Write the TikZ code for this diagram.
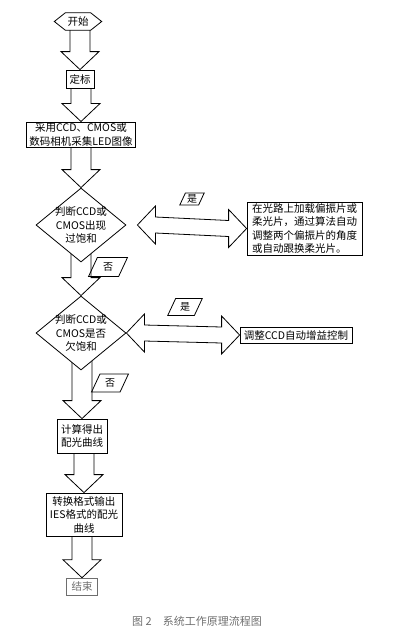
\documentclass[tikz,border=0pt]{standalone}
\usepackage{fontspec}
\setmainfont{Noto Sans CJK SC}
\usetikzlibrary{positioning,shapes.geometric,calc,backgrounds}
\definecolor{FlowGray}{HTML}{6E6E6E}

% block arrows between nodes
\newcommand\varrow[2]{%
  \draw[barrow] ($(#2 |- #1)+(-10pt,0)$) -- ($(#2)+(-10pt,18pt)$) -- ($(#2)+(-19pt,18pt)$)
    -- (#2) -- ($(#2)+(19pt,18pt)$) -- ($(#2)+(10pt,18pt)$) -- ($(#2 |- #1)+(10pt,0)$);}
\newcommand\harrow[2]{%
  \draw[barrow] (#1) -- ++(18pt,19pt) -- ++(0,-11pt) -- ($(#2)+(-18pt,8pt)$) -- ++(0,11pt)
    -- (#2) -- ++(-18pt,-19pt) -- ++(0,11pt) -- ($(#1)+(18pt,-8pt)$) -- ++(0,-11pt) -- cycle;}

\begin{document}
\begin{tikzpicture}[x=1pt,y=-1pt,font=\fontsize{10.5pt}{13.5pt}\selectfont,
    box/.style={draw, fill=white, line width=0.8pt, inner sep=1pt, align=center},
    decision/.style={diamond, draw, fill=white, line width=0.8pt, aspect=1.2, inner sep=-8pt,
      minimum width=90pt, minimum height=74pt, align=center},
    tag/.style={trapezium, trapezium left angle=65, trapezium right angle=115, draw,
      line width=0.8pt, inner sep=1.5pt, font=\fontsize{10pt}{12pt}\selectfont},
    barrow/.style={draw, fill=white, line width=0.8pt, line join=miter}]
  \useasboundingbox (0,0) rectangle (411,638);

  \node[minimum width=47pt, minimum height=17pt, inner sep=0pt] (start) at (78,21.5) {开始};
  \draw[line width=0.8pt] (start.west) -- ($(start.north west)+(11pt,0)$) -- ($(start.north east)+(-11pt,0)$)
    -- (start.east) -- ($(start.south east)+(-11pt,0)$) -- ($(start.south west)+(11pt,0)$) -- cycle;
  \node[box, minimum width=28pt, minimum height=18pt] (dingbiao) at (80,79) {定标};
  \node[box, minimum width=109pt, minimum height=25pt] (caiyong) at (81,134.5) {采用CCD、CMOS或\\数码相机采集LED图像};
  \node[decision] (dec1) at (81,225) {判断CCD或\\CMOS出现\\过饱和};
  \node[decision] (dec2) at (81,333) {判断CCD或\\CMOS是否\\欠饱和};
  \node[box, minimum width=50pt, minimum height=34pt] (jisuan) at (82,436) {计算得出\\配光曲线};
  \node[box, minimum width=76pt, minimum height=43pt] (zhuanhuan) at (84,514.5) {转换格式输出\\IES格式的配光\\曲线};
  \node[box, draw=FlowGray, text=FlowGray, line width=0.5pt, minimum width=31pt, minimum height=17pt] (jieshu) at (82,586.5) {结束};

  \node[box, align=left, inner xsep=3pt, minimum width=115pt, minimum height=53pt] (polar) at (304.5,228.5)
    {在光路上加载偏振片或\\柔光片，通过算法自动\\调整两个偏振片的角度\\或自动跟换柔光片。};
  \node[box, inner xsep=2pt, minimum width=112pt, minimum height=16pt] (gain) at (296,335) {调整CCD自动增益控制};

  \node[tag, minimum height=12pt] (tagyes1) at (192,199) {是};
  \node[tag, minimum height=19pt] (tagno1) at (108,267) {否};
  \node[tag, minimum height=17pt] (tagyes2) at (185,307) {是};
  \node[tag, minimum height=18pt] (tagno2) at (110,383) {否};

  \coordinate (gap1) at ($(dec1.east)+(11pt,0)$);
  \begin{scope}[on background layer]
    \varrow{start.south}{dingbiao.north}
    \varrow{dingbiao.center}{caiyong.north}
    \varrow{caiyong.center}{dec1.north}
    \varrow{dec1.center}{dec2.north}
    \varrow{dec2.center}{jisuan.north}
    \varrow{jisuan.center}{zhuanhuan.north}
    \varrow{zhuanhuan.center}{jieshu.north}
    \harrow{gap1}{polar.west}
    \harrow{dec2.east}{gain.west}
  \end{scope}

  \node[text=FlowGray, font=\fontsize{11pt}{13pt}\selectfont] (caption) at (197,621) {图 2\quad 系统工作原理流程图};
\end{tikzpicture}
\end{document}
